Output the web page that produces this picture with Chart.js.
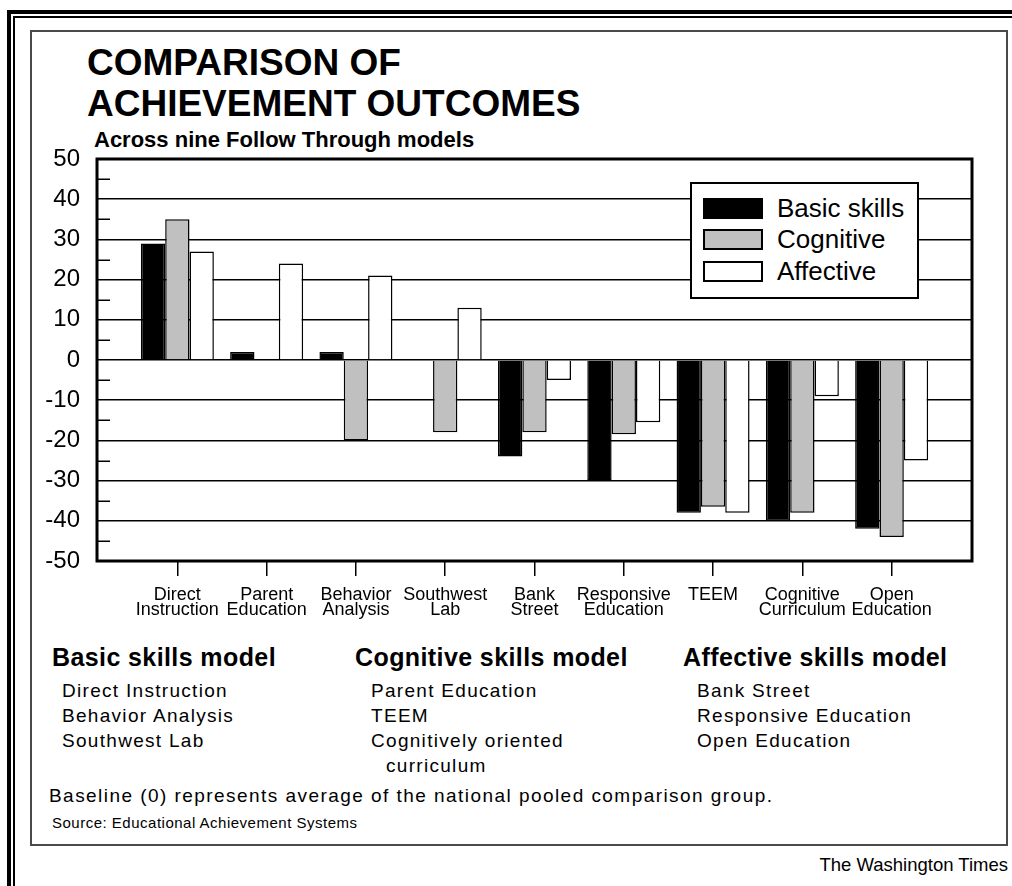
<!DOCTYPE html>
<html>
<head>
<meta charset="utf-8">
<script src="https://cdn.jsdelivr.net/npm/chart.js@4.4.0/dist/chart.umd.min.js"></script>
<style>
  html, body { margin: 0; padding: 0; background: #fff; }
  body { width: 1012px; height: 886px; position: relative; overflow: hidden;
         font-family: "Liberation Sans", Arial, sans-serif; color: #000; }
  .abs { position: absolute; white-space: nowrap; }
  .frame1 { left: 7px; top: 10px; width: 1100px; height: 1000px; border-left: 4px solid #000; border-top: 4px solid #000; }
  .frame2 { left: 13px; top: 16px; width: 1100px; height: 1000px; border-left: 2px solid #000; border-top: 2px solid #000; }
  .panel { left: 30px; top: 30px; width: 974px; height: 812px; border: 2px solid #4a4a4a; background: #fff; }
  .title { left: 87px; top: 42px; font-weight: bold; font-size: 37px; line-height: 41px; }
  .subtitle { left: 94px; top: 128px; font-weight: bold; font-size: 22px; line-height: 24px; }
  .head { top: 645px; font-weight: bold; font-size: 25px; letter-spacing: 0.4px; line-height: 24px; }
  .list { top: 678px; font-size: 19px; letter-spacing: 1.3px; line-height: 25px; }
  .note { left: 49px; top: 784px; font-size: 19px; letter-spacing: 1.45px; line-height: 24px; }
  .source { left: 52px; top: 813px; font-size: 15px; letter-spacing: 0.5px; line-height: 20px; }
  .credit { right: 4px; top: 855px; font-size: 18.5px; line-height: 20px; }
  #chart { position: absolute; left: 30px; top: 140px; }
  .legend { left: 690px; top: 182px; width: 225px; height: 113px; border: 2px solid #000; background: #fff; }
  .legend .item { position: absolute; left: 11px; height: 21px; }
  .legend .sw { position: absolute; left: 0; top: 0; width: 60px; height: 21px; box-sizing: border-box; border: 2px solid #000; }
  .legend .lab { position: absolute; left: 74px; top: 0; font-size: 26px; line-height: 21px; white-space: nowrap; }
</style>
</head>
<body>
<div class="abs frame1"></div>
<div class="abs frame2"></div>
<div class="abs panel"></div>

<div class="abs title">COMPARISON OF<br>ACHIEVEMENT OUTCOMES</div>
<div class="abs subtitle">Across nine Follow Through models</div>

<canvas id="chart" width="970" height="500"></canvas>
<div class="abs legend" id="legend"></div>

<div class="abs head" style="left:52px">Basic skills model</div>
<div class="abs head" style="left:355px">Cognitive skills model</div>
<div class="abs head" style="left:683px">Affective skills model</div>

<div class="abs list" style="left:62px">Direct Instruction<br>Behavior Analysis<br>Southwest Lab</div>
<div class="abs list" style="left:371px">Parent Education<br>TEEM<br>Cognitively oriented<br><span style="padding-left:15px">curriculum</span></div>
<div class="abs list" style="left:697px">Bank Street<br>Responsive Education<br>Open Education</div>

<div class="abs note">Baseline (0) represents average of the national pooled comparison group.</div>
<div class="abs source">Source: Educational Achievement Systems</div>
<div class="abs credit">The Washington Times</div>

<script>
// chart values
const categories = [
  ["Direct", "Instruction"], ["Parent", "Education"], ["Behavior", "Analysis"],
  ["Southwest", "Lab"], ["Bank", "Street"], ["Responsive", "Education"],
  ["TEEM"], ["Cognitive", "Curriculum"], ["Open", "Education"]
];
const basicSkills = [29, 2, 2, 0, -24, -30, -38, -40, -42];
const cognitive   = [35, 0, -20, -18, -18, -18.5, -36.5, -38, -44];
const affective   = [27, 24, 21, 13, -5, -15.5, -38, -9, -25];

const seriesNames = ["Basic skills", "Cognitive", "Affective"];
const seriesFill  = ["#000000", "#c0c0c0", "#ffffff"];

const yTicks      = [50, 40, 30, 20, 10, 0, -10, -20, -30, -40, -50];
const yMinorTicks = [45, 35, 25, 15, 5, -5, -15, -25, -35, -45];

const toPoints = arr => arr.map((v, i) => ({ x: i, y: v }));

// legend built from the series lists
const legendEl = document.getElementById('legend');
const legendCenters = [24, 55, 87];
seriesNames.forEach((name, i) => {
  const item = document.createElement('div');
  item.className = 'item';
  item.style.top = (legendCenters[i] - 10.5) + 'px';
  item.innerHTML = '<div class="sw" style="background:' + seriesFill[i] + '"></div><div class="lab">' + name + '</div>';
  legendEl.appendChild(item);
});

// frame + small inner ticks at the 5s
const boxPlugin = {
  id: 'box',
  afterDatasetsDraw(chart) {
    const { ctx, chartArea: a, scales } = chart;
    ctx.save();
    ctx.strokeStyle = '#000';
    ctx.lineWidth = 1.5;
    yMinorTicks.forEach(v => {
      const y = Math.round(scales.y.getPixelForValue(v)) + 0.25;
      ctx.beginPath();
      ctx.moveTo(a.left, y);
      ctx.lineTo(a.left + 13, y);
      ctx.stroke();
    });
    ctx.lineWidth = 3;
    ctx.strokeRect(a.left, a.top, a.right - a.left, a.bottom - a.top);
    ctx.restore();
  }
};

const ds = [basicSkills, cognitive, affective].map((vals, i) => ({
  label: seriesNames[i],
  data: toPoints(vals),
  backgroundColor: seriesFill[i],
  borderColor: '#000',
  borderWidth: 1.5,
  barPercentage: 1.0,
  categoryPercentage: 0.8175
}));

new Chart(document.getElementById('chart'), {
  type: 'bar',
  data: { datasets: ds },
  options: {
    responsive: false,
    animation: false,
    devicePixelRatio: 1,
    layout: { padding: { top: 19, right: 28, left: 0, bottom: 0 } },
    plugins: { legend: { display: false }, title: { display: false }, tooltip: { enabled: false } },
    scales: {
      x: {
        type: 'linear',
        min: -0.9,
        max: 8.9,
        offset: false,
        afterBuildTicks: s => { s.ticks = categories.map((c, i) => ({ value: i })); },
        afterFit: s => { s.height = 79; s.paddingLeft = 0; s.paddingRight = 0; },
        border: { display: false },
        grid: { offset: false, drawOnChartArea: false, drawTicks: true, tickLength: 15, color: '#000', lineWidth: 1.5 },
        ticks: {
          autoSkip: false,
          maxRotation: 0,
          padding: 12,
          color: '#000',
          font: { family: 'Liberation Sans', size: 18, lineHeight: '15px' },
          callback: v => categories[v]
        }
      },
      y: {
        min: -50,
        max: 50,
        afterBuildTicks: s => { s.ticks = yTicks.map(v => ({ value: v })); },
        afterFit: s => { s.width = 67; s.paddingTop = 0; s.paddingBottom = 0; },
        border: { display: false },
        grid: { color: '#000', lineWidth: 1.5, drawTicks: false },
        ticks: {
          padding: 17,
          color: '#000',
          font: { family: 'Liberation Sans', size: 24 }
        }
      }
    }
  },
  plugins: [boxPlugin]
});
</script>
</body>
</html>
